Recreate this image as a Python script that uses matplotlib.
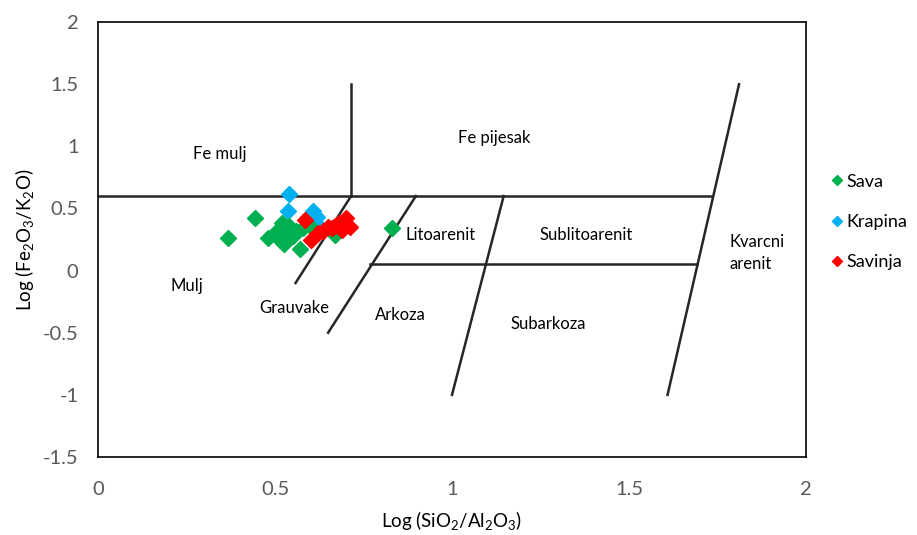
import matplotlib
matplotlib.use('Agg')
import matplotlib.pyplot as plt

plt.rcParams['font.family'] = ['Lato', 'DejaVu Sans']
plt.rcParams['mathtext.default'] = 'regular'

# data points (x = log SiO2/Al2O3, y = log Fe2O3/K2O)
sava_x = [0.366, 0.444, 0.481, 0.50, 0.52, 0.53, 0.54, 0.525, 0.55, 0.57, 0.56, 0.60, 0.669, 0.83, 0.515, 0.58]
sava_y = [0.265, 0.42, 0.26, 0.30, 0.38, 0.33, 0.36, 0.21, 0.28, 0.17, 0.32, 0.36, 0.29, 0.34, 0.25, 0.34]
krapina_x = [0.54, 0.536, 0.608, 0.617, 0.62, 0.60]
krapina_y = [0.62, 0.48, 0.48, 0.38, 0.43, 0.42]
savinja_x = [0.585, 0.603, 0.622, 0.636, 0.65, 0.67, 0.688, 0.70, 0.712, 0.68, 0.66]
savinja_y = [0.41, 0.25, 0.30, 0.32, 0.35, 0.36, 0.33, 0.42, 0.35, 0.38, 0.34]

# classification field boundaries (Herron 1988)
boundaries = [
    ([0, 1.733], [0.6, 0.6]),
    ([0.715, 0.715], [0.6, 1.5]),
    ([0.558, 0.715], [-0.1, 0.6]),
    ([0.65, 0.898], [-0.5, 0.6]),
    ([0.767, 1.691], [0.05, 0.05]),
    ([1.0, 1.146], [-1.0, 0.6]),
    ([1.609, 1.811], [-1.0, 1.5]),
]

field_names = ['Fe mulj', 'Fe pijesak', 'Mulj', 'Grauvake', 'Arkoza', 'Subarkoza',
               'Litoarenit', 'Sublitoarenit']
field_x = [0.345, 1.119, 0.251, 0.554, 0.853, 1.271, 0.969, 1.379]
field_y = [0.94, 1.066, -0.125, -0.30, -0.355, -0.43, 0.29, 0.29]

fig = plt.figure(figsize=(9.17, 5.35), dpi=100)
ax = fig.add_axes([0.1069, 0.1458, 0.772, 0.813])

for bx, by in boundaries:
    ax.plot(bx, by, color='#262626', lw=1.8, zorder=1)

ax.plot(sava_x, sava_y, 'D', color='#00B050', ms=8.5, ls='none', label='Sava', zorder=3)
ax.plot(krapina_x, krapina_y, 'D', color='#00B0F0', ms=8.5, ls='none', label='Krapina', zorder=2)
ax.plot(savinja_x, savinja_y, 'D', color='#FF0000', ms=8.5, ls='none', label='Savinja', zorder=4)

for name, tx, ty in zip(field_names, field_x, field_y):
    ax.text(tx, ty, name, ha='center', va='center', fontsize=12, color='black')
ax.text(1.785, 0.14, 'Kvarcni\narenit', ha='left', va='center', fontsize=12, linespacing=1.45)

ax.set_xlim(0, 2)
ax.set_ylim(-1.5, 2)
ax.set_xticks([0, 0.5, 1, 1.5, 2])
ax.set_xticklabels(['0', '0.5', '1', '1.5', '2'])
ax.set_yticks([-1.5, -1, -0.5, 0, 0.5, 1, 1.5, 2])
ax.set_yticklabels(['-1.5', '-1', '-0.5', '0', '0.5', '1', '1.5', '2'])
ax.tick_params(length=0, labelsize=14.5, labelcolor='#595959')
ax.tick_params(axis='x', pad=17)
ax.tick_params(axis='y', pad=14)
for s in ax.spines.values():
    s.set_color('black')
    s.set_linewidth(1.2)

ax.set_xlabel('Log (SiO$_2$/Al$_2$O$_3$)', fontsize=13.5, labelpad=8)
ax.set_ylabel('Log (Fe$_2$O$_3$/K$_2$O)', fontsize=13.5, labelpad=5)

fig.legend(loc='center left', bbox_to_anchor=(0.905, 0.585), frameon=False,
           fontsize=13, markerscale=0.6, labelspacing=1.35, handletextpad=0.1,
           handlelength=0.8, borderaxespad=0, borderpad=0)

fig.savefig('out.png', dpi=100)
